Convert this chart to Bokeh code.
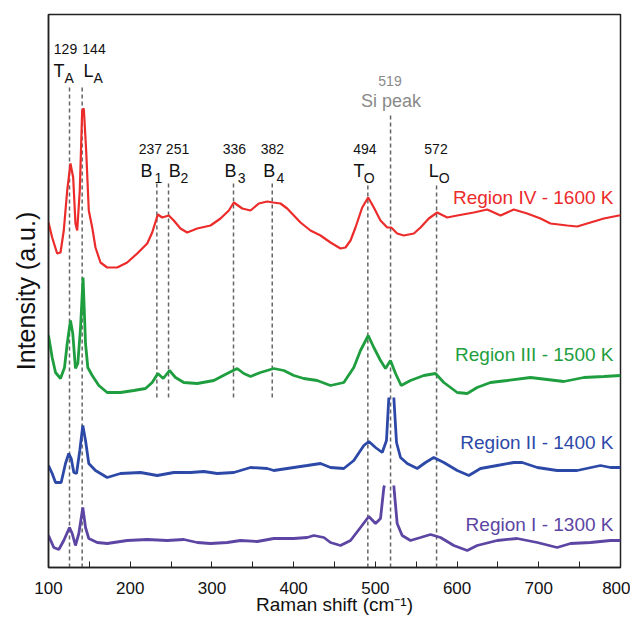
from bokeh.plotting import figure
from bokeh.models import Range1d, FixedTicker
from bokeh.core.properties import value
from bokeh.embed import file_html
from bokeh.resources import INLINE

NAN = float("nan")

# ---- spectra (Raman shift cm-1, intensity a.u.) ----
region4 = [(100,345),(104.5,330),(110.6,314),(114.7,315),(118.7,337),(122.9,377),(126.9,404),
           (130.2,390),(133.0,344),(135.1,337),(138.3,377),(141.2,457),(143.2,459),(146.1,417),
           (149.3,357),(153.5,340),(157.5,320),(163.6,305),(171.8,300),(184.1,300),(196.3,305),
           (208.6,314),(220.8,324),(226.9,335),(233.8,353),(239.1,350),(247.2,352),(253.3,347),
           (261.5,339),(269.7,335),(282.0,339),(298.3,342),(310.5,349),(320.7,357),(326.8,365),
           (337.1,359),(347.2,357),(357.4,364),(367.6,366),(375.0,365),(383.9,364),(392.1,359),
           (408.4,345),(420.6,337),(432.9,332),(445.1,325),(457.3,319),(463.5,320),(469.6,327),
           (475.7,340),(483.9,360),(491.2,370),(498.1,360),(506.3,347),(514.5,340),(519.4,340),
           (526.7,334),(534.8,332),(547.1,334),(555.3,340),(565.4,349),(575.7,355),(587.9,350),
           (600.2,352),(620.5,355),(636.9,358),(653.2,352),(669.4,358),(685.8,354),(702.1,349),
           (714.3,344),(734.8,342),(747.0,341),(763.3,345),(779.6,349),(798.0,352),(800,352)]

region3 = [(100,232),(104.5,210),(108.6,195),(114.7,189),(119.6,200),(122.9,224),(126.9,247),
           (129.7,234),(133.0,199),(135.9,204),(139.2,240),(142.3,290),(145.3,224),(148.1,200),
           (153.5,192),(161.6,182),(171.8,175),(188.1,175),(204.4,177),(218.7,179),(226.9,185),
           (233.8,194),(240.4,189),(248.1,197),(255.4,190),(265.6,185),(282.0,184),(302.3,187),
           (318.7,194),(330.9,199),(339.0,194),(347.2,191),(359.4,195),(375.7,199),(388.0,197),
           (400.2,192),(412.4,189),(428.8,187),(445.1,182),(461.4,185),(473.6,200),(481.8,217),
           (491.3,232),(498.1,220),(506.3,207),(512.4,199),(518.5,207),(524.7,194),(531.6,182),
           (543.0,187),(559.3,192),(573.6,194),(583.8,185),(600.2,175),(612.4,174),(624.6,180),
           (640.9,185),(661.4,187),(689.9,190),(710.3,188),(730.6,186),(755.1,190),(779.6,191),
           (800,192)]

region2 = [(100,102),(104.5,94),(108.6,85),(115.5,85),(120.8,104),(124.8,114),(127.8,109),
           (131.0,95),(134.3,94),(138.3,117),(142.0,142),(145.3,127),(149.3,104),(157.5,97),
           (171.8,90),(188.1,94),(212.6,95),(233.0,92),(253.3,95),(273.8,95),(290.1,96),
           (306.5,94),(326.8,95),(347.2,100),(367.6,99),(375.7,97),(400.2,100),(416.6,102),
           (432.9,104),(445.1,100),(461.4,99),(473.6,107),(485.9,122),(492.0,126),(500.2,120),
           (508.4,115),(513.6,127),(516.5,170),(NAN,NAN),(522.6,170),(525.9,125),(530.8,110),
           (539.0,104),(551.2,99),(561.4,105),(571.5,110),(583.8,105),(600.2,97),(614.4,92),
           (628.7,99),(649.1,102),(669.4,105),(679.7,105),(698.1,100),(722.5,97),(747.0,97),
           (775.5,102),(787.8,100),(800,100)]

region1 = [(100,32),(106.5,20),(112.6,18),(118.7,27),(125.7,40),(129.0,34),(133.0,22),
           (137.1,34),(142.0,60),(145.3,40),(149.3,29),(159.6,25),(171.8,24),(196.3,27),
           (220.8,28),(245.3,27),(265.6,28),(282.0,25),(298.3,24),(318.7,25),(335.0,27),
           (355.4,26),(375.7,29),(400.2,29),(416.6,30),(424.7,32),(437.0,30),(445.1,25),
           (457.3,22),(469.6,27),(481.8,40),(492.0,51),(500.2,44),(506.3,49),(510.4,80),
           (511.2,82),(NAN,NAN),(522.6,82),(523.4,74),(526.7,44),(532.8,32),(543.0,27),
           (555.3,30),(567.5,33),(579.7,30),(596.0,22),(612.4,17),(624.6,22),(649.1,27),
           (673.5,29),(698.1,25),(722.5,20),(738.8,24),(763.3,25),(787.8,27),(800,27)]

series_names = ["Region IV - 1600 K", "Region III - 1500 K", "Region II - 1400 K", "Region I - 1300 K"]
series_data = [region4, region3, region2, region1]

# ---- peak assignments ----
peak_values = ["129", "144", "237", "251", "336", "382", "494", "519", "572"]
peak_line_x = [125.7, 141.2, 232.6, 246.9, 326.4, 373.8, 490.8, 518.6, 574.9]
peak_line_top = [480, 480, 384, 384, 385, 385, 385, 452, 385]
peak_line_bottom = [0, 0, 170, 170, 170, 170, 0, 0, 0]
mode_letters = ["T", "L", "B", "B", "B", "B", "T", "L"]
mode_subscripts = ["A", "A", "1", "2", "3", "4", "O", "O"]
si_label = "Si peak"

# ---- text placement (layout) ----
num_x = [120.8, 155.7, 224.8, 257.9, 327.6, 374.1, 487.3, 517.9, 574.2]
num_y = [519, 519, 419, 419, 419, 419, 419, 487, 419]
let_x = [106.1, 142.8, 212.6, 247.2, 315.4, 362.8, 473.3, 565.4]
let_y = [497, 497, 397, 397, 397, 397, 397, 397]
sub_x = [119.6, 155.1, 229.7, 261.5, 331.7, 379.0, 485.9, 577.6]
sub_y = [490, 490, 390, 390, 390, 390, 390, 390]
legend_x = 791.4
legend_y = [370, 213, 125, 43]
si_x, si_y = 519.1, 467

colors = ["#EC2B2B", "#1E9E3E", "#2D49A8", "#5C45A3"]
widths = [2.2, 2.8, 2.8, 2.8]
FONT = "Liberation Sans"

p = figure(width=630, height=617, x_range=Range1d(100, 800), y_range=Range1d(0, 553),
           output_backend="svg", toolbar_location=None,
           min_border_left=48, min_border_right=10, min_border_top=14, min_border_bottom=50)
p.xgrid.visible = False
p.ygrid.visible = False
p.outline_line_color = "#222222"
p.outline_line_width = 1.5
p.background_fill_color = "white"
p.border_fill_color = "white"

xa = p.xaxis[0]
xa.ticker = FixedTicker(ticks=list(range(100, 801, 100)), minor_ticks=list(range(150, 800, 100)))
xa.major_tick_in = 6
xa.major_tick_out = 0
xa.minor_tick_in = 6
xa.minor_tick_out = 0
xa.major_tick_line_color = "#222222"
xa.minor_tick_line_color = "#222222"
xa.axis_line_color = "#222222"
xa.axis_line_width = 1.5
xa.major_label_text_font = FONT
xa.major_label_text_font_size = "17px"
xa.major_label_text_color = "#111111"
xa.major_label_standoff = 14
xa.axis_label = "Raman shift (cm\u207b\u00b9)"
xa.axis_label_text_font = FONT
xa.axis_label_text_font_size = "19px"
xa.axis_label_text_font_style = "normal"
xa.axis_label_text_color = "#111111"
xa.axis_label_standoff = -3

ya = p.yaxis[0]
ya.ticker = FixedTicker(ticks=[])
ya.major_tick_line_color = None
ya.minor_tick_line_color = None
ya.major_label_text_font_size = "0px"
ya.axis_line_color = "#222222"
ya.axis_line_width = 1.5
ya.axis_label = "Intensity (a.u.)"
ya.axis_label_text_font = FONT
ya.axis_label_text_font_size = "25px"
ya.axis_label_text_font_style = "normal"
ya.axis_label_text_color = "#111111"
ya.axis_label_standoff = 9

# dashed peak markers
p.segment(x0=peak_line_x, y0=peak_line_bottom, x1=peak_line_x, y1=peak_line_top,
          line_color="#666666", line_width=1.5, line_dash="4 3")

# spectra
for data, c, w in zip(series_data, colors, widths):
    xs = [d[0] for d in data]
    ys = [d[1] for d in data]
    p.line(xs, ys, line_color=c, line_width=w)

# legend-like labels
p.text(x=[legend_x] * 4, y=legend_y, text=series_names, text_color=colors,
       text_font=value(FONT), text_font_size=value("19px"), text_align="right",
       text_baseline="alphabetic")

# peak numbers
num_colors = ["#111111"] * 7 + ["#8a8a8a"] + ["#111111"]
p.text(x=num_x, y=num_y, text=peak_values, text_color=num_colors,
       text_font=value(FONT), text_font_size=value("14px"), text_align="center",
       text_baseline="alphabetic")
# mode letters and subscripts
p.text(x=let_x, y=let_y, text=mode_letters, text_color="#111111",
       text_font=value(FONT), text_font_size=value("18px"), text_align="left",
       text_baseline="alphabetic")
p.text(x=sub_x, y=sub_y, text=mode_subscripts, text_color="#111111",
       text_font=value(FONT), text_font_size=value("14px"), text_align="left",
       text_baseline="alphabetic")
p.text(x=[si_x], y=[si_y], text=[si_label], text_color="#8a8a8a",
       text_font=value(FONT), text_font_size=value("18px"), text_align="center",
       text_baseline="alphabetic")

open("out.html", "w").write(file_html(p, INLINE))
